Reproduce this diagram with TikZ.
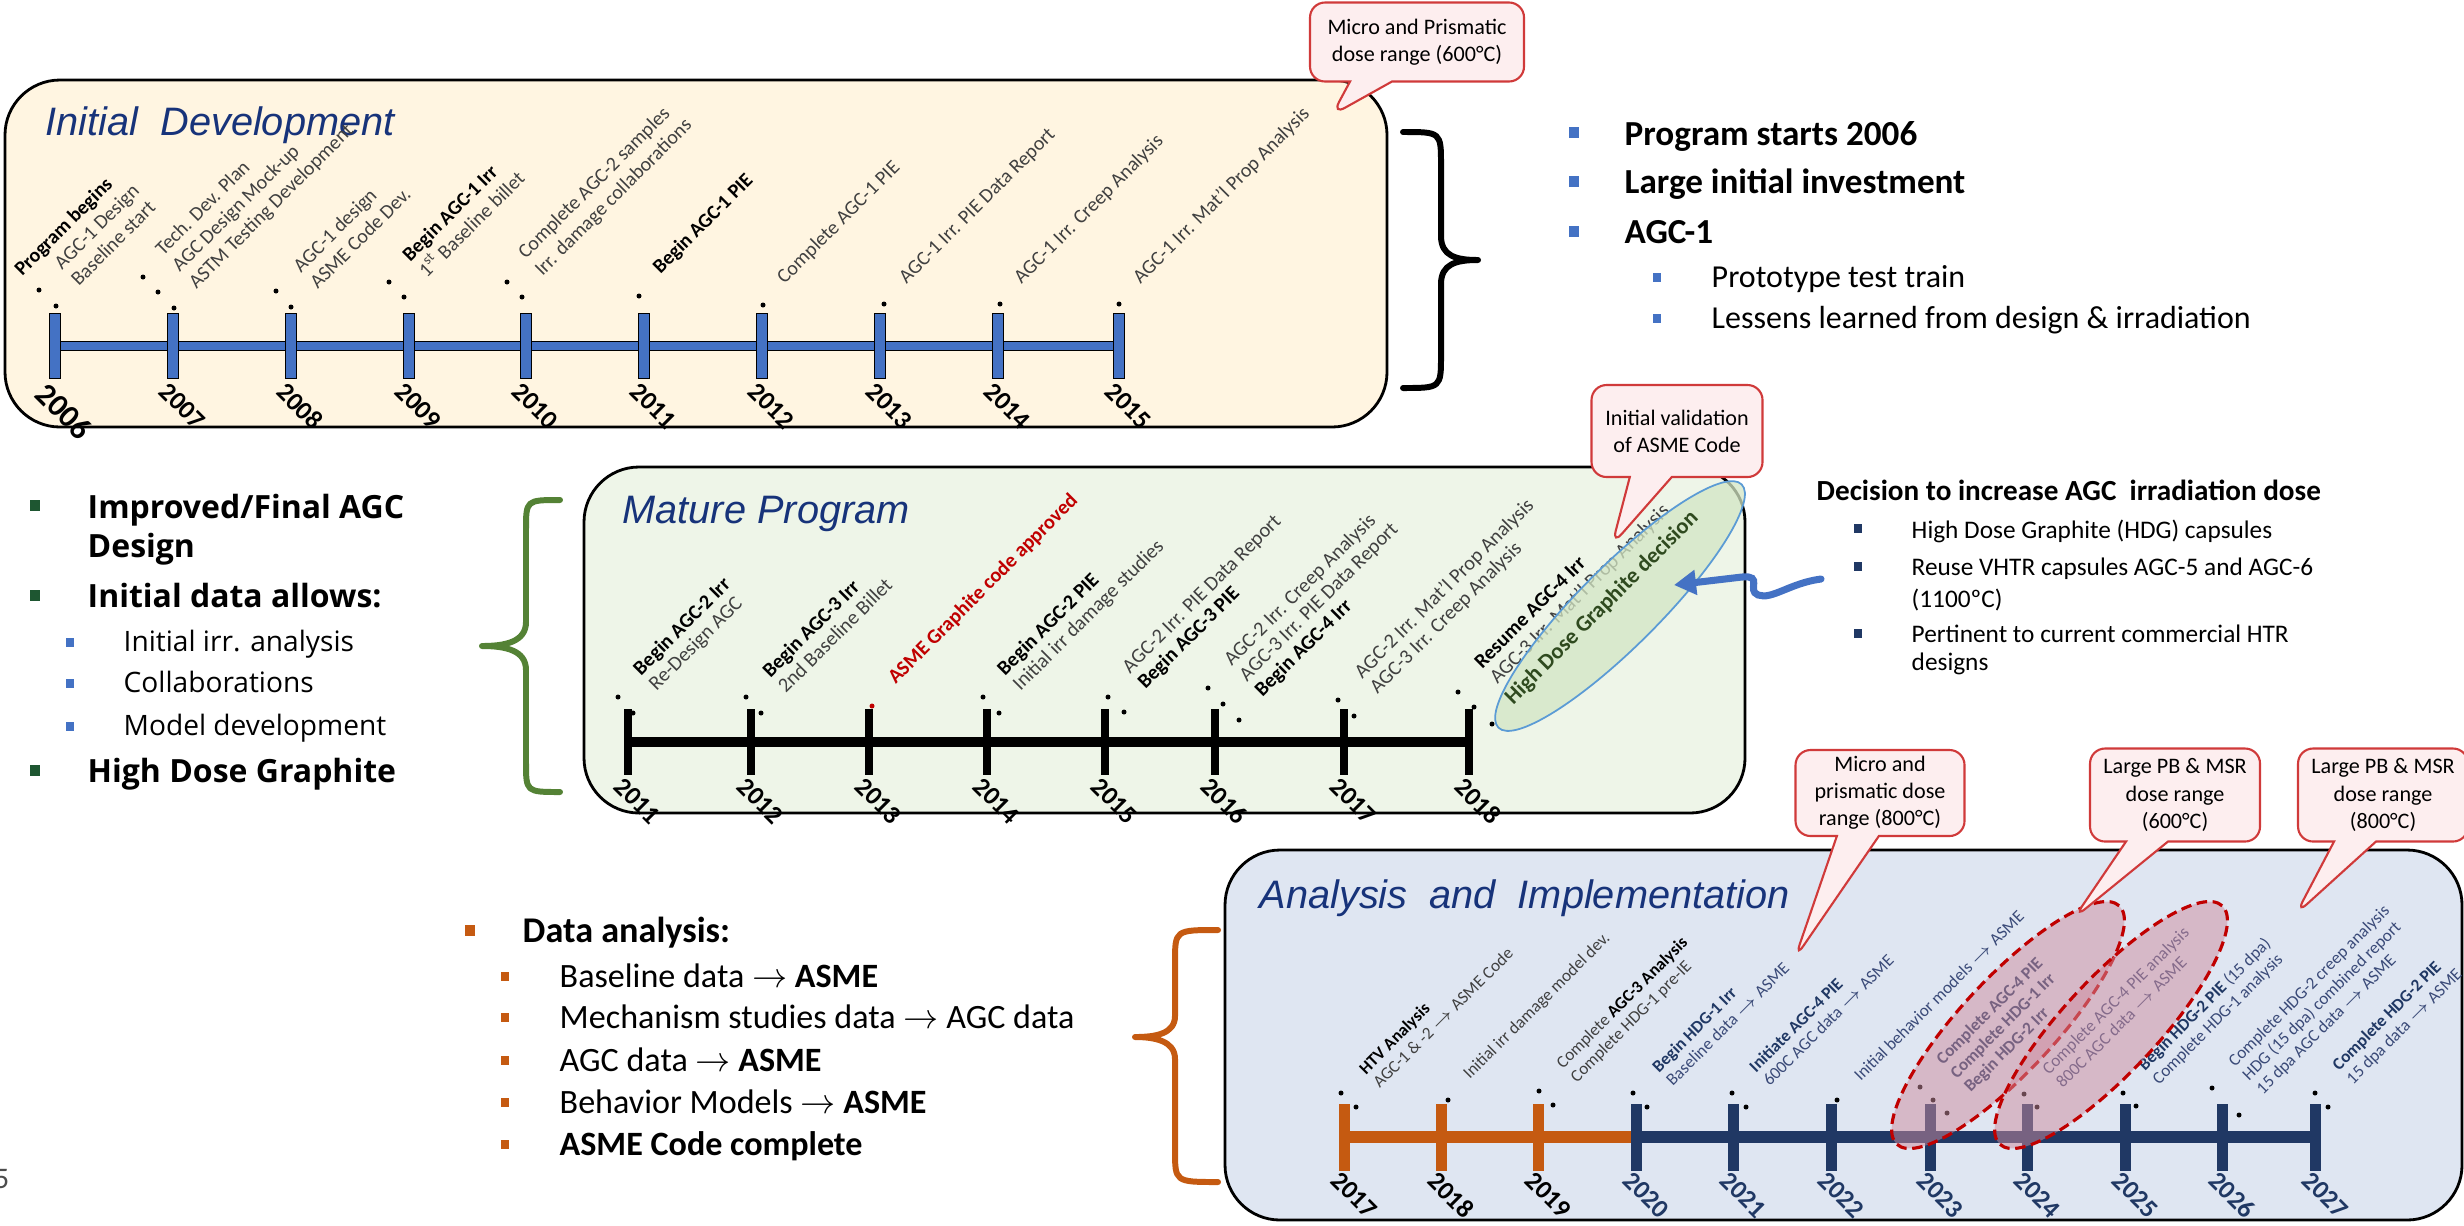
\documentclass[tikz,border=0pt]{standalone}
\usepackage{fontspec}
\setmainfont{Carlito}
\newfontfamily\titlefont{Liberation Sans}
\newfontfamily\segoefont{Open Sans}
\usetikzlibrary{shapes.geometric, shapes.callouts, arrows.meta, positioning}

\definecolor{creamfill}{HTML}{FFF5E1}
\definecolor{greenfill}{HTML}{EEF5E8}
\definecolor{bluefill}{HTML}{DFE6F2}
\definecolor{titleblue}{HTML}{17337A}
\definecolor{tlblue}{HTML}{4472C4}
\definecolor{navy}{HTML}{203864}
\definecolor{navytext}{HTML}{3A4A78}
\definecolor{agcorange}{HTML}{C55A11}
\definecolor{bracegreen}{HTML}{548235}
\definecolor{bulgreen}{HTML}{1E5631}
\definecolor{callfill}{HTML}{FDEEEF}
\definecolor{callred}{HTML}{D03A3A}
\definecolor{codered}{HTML}{C00000}
\definecolor{hdgfill}{HTML}{D3E6C4}
\definecolor{hdgline}{HTML}{5B9BD5}
\definecolor{hdgtext}{HTML}{2F4A1F}
\definecolor{pinkfill}{HTML}{CF8C9E}

\newcommand{\setfs}[2]{\fontsize{#1}{#2}\selectfont}
\newcommand{\toarr}{\ensuremath{\rightarrow}}
\newcommand{\boldtag}[1]{\textbf{\textcolor{black}{#1}}}

\begin{document}
\begin{tikzpicture}[x=0.1mm, y=-0.1mm,
 panel/.style={draw=black, line width=0.8pt, rounded corners=5.5mm},
 ptitle/.style={anchor=base west, inner sep=0, text=titleblue, font=\titlefont\itshape\setfs{11.3}{13}},
 tickA/.style={draw=black, line width=0.4pt, fill=tlblue, minimum width=1.1mm, minimum height=6.5mm, inner sep=0},
 tickB/.style={fill=black, minimum width=0.8mm, minimum height=6.6mm, inner sep=0},
 tickC/.style={fill=#1, minimum width=1.1mm, minimum height=6.7mm, inner sep=0},
 yearlbl/.style={rotate=-45, anchor=north west, inner sep=0, font=\bfseries\setfs{7.4}{8}},
 ann/.style={rotate=45, anchor=south west, inner sep=0, align=left, text=black!75, font=\setfs{5.7}{6.7}},
 annB/.style={ann, font=\setfs{5.8}{6.2}},
 annC/.style={ann, font=\setfs{4.9}{5.6}},
 speck/.style={fill=black},
 bubble/.style={rectangle callout, draw=callred, fill=callfill, line width=0.6pt, rounded corners=1.5mm, align=center, inner sep=0, font=\setfs{6.3}{7.7}, callout pointer width=4.2mm},
 hdgell/.style={ellipse, rotate=45, minimum width=34.4mm, minimum height=8mm, draw=hdgline, line width=0.5pt, fill=hdgfill, fill opacity=0.75, inner sep=0},
 pbell/.style={ellipse, rotate=47, minimum width=32.6mm, minimum height=9.4mm, draw=codered, line width=0.9pt, dash pattern=on 3pt off 1.6pt, fill=pinkfill, fill opacity=0.5, inner sep=0},
 bracepath/.style={line width=1.7pt, line cap=round, line join=round},
 bsq/.style={fill=#1, minimum width=1mm, minimum height=1.1mm, inner sep=0},
 ssq/.style={fill=#1, minimum width=0.8mm, minimum height=0.9mm, inner sep=0},
 line/.style={anchor=base west, inner sep=0}
 ]
 \useasboundingbox (0,0) rectangle (2464,1225);

 %Panels
 \draw[panel, fill=creamfill] (5,80) rectangle (1387,427);
 \draw[panel, fill=greenfill] (584,467) rectangle (1745,813);
 \draw[panel, fill=bluefill] (1225,850) rectangle (2462,1220);

 \node[ptitle] (title1) at (45,135) {Initial\ \ Development};
 \node[ptitle] (title2) at (622,523) {Mature Program};
 \node[ptitle] (title3) at (1259,908) {Analysis\ \ and\ \ Implementation};

 %Braces
 \draw[bracepath] (1403,132) .. controls (1441,132) .. (1441,165) -- (1441,236) .. controls (1441,256) and (1456,260) .. (1478,260) .. controls (1456,260) and (1441,264) .. (1441,284) -- (1441,355) .. controls (1441,388) .. (1403,388);
 \draw[bracepath, bracegreen] (560,500) .. controls (526,500) .. (526,530) -- (526,622) .. controls (526,642) and (505,646) .. (482,646) .. controls (505,646) and (526,650) .. (526,670) -- (526,762) .. controls (526,792) .. (560,792);
 \draw[bracepath, agcorange] (1218,930) .. controls (1175,930) .. (1175,962) -- (1175,1016) .. controls (1175,1034) and (1155,1037) .. (1135,1037) .. controls (1155,1037) and (1175,1041) .. (1175,1059) -- (1175,1150) .. controls (1175,1182) .. (1218,1182);

 %Timeline 2006-2015
 \coordinate (bar1s) at (55,346);
 \coordinate (bar1e) at (1119,346);
 \draw[line width=3.1pt] (bar1s) -- (bar1e);
 \draw[tlblue, line width=2pt] (bar1s) -- (bar1e);
 \node[tickA] (ta2006) at (55,346) {};
 \node[yearlbl, font=\bfseries\setfs{9}{10}] (ya2006) at (49,380) {2006};
 \foreach \yr/\x in {2007/173, 2008/291, 2009/409, 2010/526, 2011/644, 2012/762, 2013/880, 2014/998, 2015/1119} {
   \node[tickA] (ta\yr) at (\x,346) {};
   \node[yearlbl] (ya\yr) at (\x-3,380) {\yr};
 }

 %Timeline 2011-2018
 \coordinate (bar2s) at (628,742);
 \coordinate (bar2e) at (1469,742);
 \draw[line width=2.9pt] (bar2s) -- (bar2e);
 \foreach \yr/\x in {2011/628, 2012/751, 2013/869, 2014/987, 2015/1105, 2016/1215, 2017/1344, 2018/1469} {
   \node[tickB] (tb\yr) at (\x,742) {};
   \node[yearlbl] (yb\yr) at (\x-3,775) {\yr};
 }

 %Timeline 2017-2027
 \coordinate (bar3s) at (1344,1137);
 \coordinate (bar3m) at (1636,1137);
 \coordinate (bar3e) at (2315,1137);
 \draw[agcorange, line width=3.4pt] (bar3s) -- (bar3m);
 \draw[navy, line width=3.4pt] (bar3m) -- (bar3e);
 \foreach \yr/\x in {2017/1344, 2018/1441, 2019/1538} {
   \node[tickC=agcorange] (tc\yr) at (\x,1137) {};
   \node[yearlbl] (yc\yr) at (\x-2,1169) {\yr};
 }
 \foreach \yr/\x in {2020/1636, 2021/1733, 2022/1831, 2023/1930, 2024/2027, 2025/2125, 2026/2222, 2027/2315} {
   \node[tickC=navy] (tc\yr) at (\x,1137) {};
   \node[yearlbl, text=navy] (yc\yr) at (\x-2,1169) {\yr};
 }

 %Dots
 \foreach \p in {(39,290),(56,306),(143,277),(158,292),(174,308),(276,291),(291,307),(389,282),(404,297),(507,282),(522,297),(639,296),(763,305),(884,304),(1000,304),(1119,304),
   (618,697),(633,713),(746,697),(761,713),(983,697),(999,713),(1108,697),(1124,712),(1208,688),(1223,704),(1239,720),(1338,700),(1354,716),(1458,692),(1474,707),(1492,724),
   (1341,1093),(1356,1107),(1448,1100),(1539,1091),(1553,1105),(1633,1093),(1647,1107),(1732,1093),(1746,1107),(1837,1100),(1920,1087),(1933,1100),(1947,1113),(2024,1094),(2037,1107),(2123,1093),(2136,1106),(2212,1088),(2239,1115),(2315,1093),(2328,1107)}
   \fill[speck] \p circle[radius=0.25mm];
 \fill[codered] (872,706) circle[radius=0.25mm];

 %Milestones 2006-2015
 \node[ann] (m2006) at (79,288) {\hspace*{-3.3mm}\boldtag{Program begins}\\AGC-1 Design\\Baseline start};
 \node[ann] (m2007) at (199,293) {Tech. Dev. Plan\\AGC Design Mock-up\\ASTM Testing Development};
 \node[ann] (m2008) at (318,291) {AGC-1 design\\ASME Code Dev.};
 \node[ann] (m2009) at (427,280) {\boldtag{Begin AGC-1 Irr}\\1\textsuperscript{st} Baseline billet};
 \node[ann] (m2010) at (545,280) {Complete AGC-2 samples\\Irr. damage collaborations};
 \node[ann] (m2011) at (663,278) {\boldtag{Begin AGC-1 PIE}};
 \node[ann] (m2012) at (787,288) {Complete AGC-1 PIE};
 \node[ann] (m2013) at (909,288) {AGC-1 Irr. PIE Data Report};
 \node[ann] (m2014) at (1024,288) {AGC-1 Irr. Creep Analysis};
 \node[ann] (m2015) at (1143,288) {AGC-1 Irr. Mat’l Prop Analysis};

 %Milestones 2011-2018
 \node[annB] (n2011) at (659,695) {\boldtag{Begin AGC-2 Irr}\\Re-Design AGC};
 \node[annB] (n2012) at (786,695) {\boldtag{Begin AGC-3 Irr}\\2nd Baseline Billet};
 \node[annB, text=codered] (n2013) at (898,688) {\textbf{ASME Graphite code approved}};
 \node[annB] (n2014) at (1023,695) {\boldtag{Begin AGC-2 PIE}\\Initial irr damage studies};
 \node[annB] (n2015) at (1148,693) {AGC-2 Irr. PIE Data Report\\\boldtag{Begin AGC-3 PIE}};
 \node[annB] (n2016) at (1265,701) {AGC-2 Irr. Creep Analysis\\AGC-3 Irr. PIE Data Report\\\boldtag{Begin AGC-4 Irr}};
 \node[annB] (n2017) at (1380,698) {AGC-2 Irr. Mat’l Prop Analysis\\AGC-3 Irr. Creep Analysis};
 \node[annB] (n2018) at (1500,688) {\boldtag{Resume AGC-4 Irr}\\AGC-3 Irr. Mat’l Prop Analysis};

 %Milestones 2017-2027
 \node[annC] (p2017) at (1380,1090) {\boldtag{HTV Analysis}\\AGC-1 \& -2 \toarr{} ASME Code};
 \node[annC] (p2018) at (1472,1083) {Initial irr damage model dev.};
 \node[annC] (p2019) at (1579,1086) {Complete \boldtag{AGC-3 Analysis}\\Complete HDG-1 pre-IE};
 \node[annC, text=navytext] (p2020) at (1673,1088) {\textbf{\textcolor{navy}{Begin HDG-1 Irr}}\\Baseline data \toarr{} ASME};
 \node[annC, text=navytext] (p2021) at (1770,1088) {\textbf{\textcolor{navy}{Initiate AGC-4 PIE}}\\600C AGC data \toarr{} ASME};
 \node[annC, text=navytext] (p2022) at (1861,1083) {Initial behavior models \toarr{} ASME};
 \node[annC, text=navy] (p2023) at (1973,1096) {\textbf{Complete AGC-4 PIE}\\\textbf{Complete HDG-1 Irr}\\\textbf{Begin HDG-2 Irr}};
 \node[annC, text=navytext] (p2024) at (2063,1090) {Complete AGC-4 PIE analysis\\800C AGC data \toarr{} ASME};
 \node[annC, text=navytext] (p2025) at (2161,1088) {\textbf{\textcolor{navy}{Begin HDG-2 PIE}} (15 dpa)\\Complete HDG-1 analysis};
 \node[annC, text=navytext] (p2026) at (2265,1098) {Complete HDG-2 creep analysis\\HDG (15 dpa) combined report\\15 dpa AGC data \toarr{} ASME};
 \node[annC, text=navytext] (p2027) at (2355,1088) {\textbf{\textcolor{navy}{Complete HDG-2 PIE}}\\15 dpa data \toarr{} ASME};

 %Highlights
 \node[hdgell] (hdg) at (1620,606) {};
 \node[rotate=45, inner sep=0, text=hdgtext, font=\bfseries\setfs{6.4}{7}] (hdgtxt) at (1602,608) {High Dose Graphite decision};
 \node[pbell] (pb600) at (2008,1025) {};
 \node[pbell] (pb800) at (2111,1025) {};

 %Callouts
 \node[bubble, minimum width=21.4mm, minimum height=7.9mm, callout absolute pointer={(1332,115)}] (c600) at (1417,42) {Micro and Prismatic\\dose range (600°C)};
 \node[bubble, minimum width=17.1mm, minimum height=9.2mm, callout absolute pointer={(1612,545)}] (casme) at (1677,431) {Initial validation\\of ASME Code};
 \node[bubble, minimum width=16.9mm, minimum height=8.6mm, callout absolute pointer={(1795,958)}] (c800) at (1880,793) {Micro and\\prismatic dose\\range (800°C)};
 \node[bubble, minimum width=17mm, minimum height=9.3mm, callout absolute pointer={(2074,918)}] (cpb600) at (2175,795) {Large PB \& MSR\\dose range\\(600°C)};
 \node[bubble, minimum width=17mm, minimum height=9.3mm, callout absolute pointer={(2296,914)}] (cpb800) at (2383,795) {Large PB \& MSR\\dose range\\(800°C)};

 %Squiggle arrow
 \coordinate (sqtail) at (1821,579);
 \coordinate (sqtip) at (1674,585);
 \draw[tlblue, line width=2pt, line cap=round, -{Triangle[length=2.2mm,width=2.4mm]}] (sqtail) .. controls (1790,583) and (1772,600) .. (1758,595) .. controls (1746,590) and (1764,575) .. (1742,577) -- (sqtip);

 %Text right of panel 1
 \node[bsq=tlblue] (r1) at (1574,132) {};
 \node[bsq=tlblue] (r2) at (1574,181) {};
 \node[bsq=tlblue] (r3) at (1574,231) {};
 \node[ssq=tlblue] (r4) at (1657,277) {};
 \node[ssq=tlblue] (r5) at (1657,318) {};
 \node[line, font=\bfseries\setfs{10}{12}] (rt1) at (1624,145) {Program starts 2006};
 \node[line, font=\bfseries\setfs{10}{12}] (rt2) at (1624,193) {Large initial investment};
 \node[line, font=\bfseries\setfs{10}{12}] (rt3) at (1624,243) {AGC-1};
 \node[line, font=\setfs{9.1}{11}] (rt4) at (1711,287) {Prototype test train};
 \node[line, font=\setfs{9.1}{11}] (rt5) at (1711,328) {Lessens learned from design \& irradiation};

 %Text left of panel 2
 \node[bsq=bulgreen] (g1) at (35,505) {};
 \node[bsq=bulgreen] (g2) at (35,595) {};
 \node[ssq=tlblue] (g3) at (70,642) {};
 \node[ssq=tlblue] (g4) at (70,683) {};
 \node[ssq=tlblue] (g5) at (70,726) {};
 \node[bsq=bulgreen] (g6) at (35,770) {};
 \node[line, font=\segoefont\bfseries\setfs{9.1}{11}] (gt1) at (87,518) {Improved/Final AGC};
 \node[line, font=\segoefont\bfseries\setfs{9.1}{11}] (gt1b) at (87,557) {Design};
 \node[line, font=\segoefont\bfseries\setfs{9.1}{11}] (gt2) at (87,607) {Initial data allows:};
 \node[line, font=\segoefont\setfs{8}{10}] (gt3) at (123,651) {Initial irr. analysis};
 \node[line, font=\segoefont\setfs{8}{10}] (gt4) at (123,692) {Collaborations};
 \node[line, font=\segoefont\setfs{8}{10}] (gt5) at (123,735) {Model development};
 \node[line, font=\segoefont\bfseries\setfs{9.1}{11}] (gt6) at (87,782) {High Dose Graphite};

 %Text right of panel 2
 \node[line, font=\bfseries\setfs{8.3}{10}] (dt0) at (1816,500) {Decision to increase AGC\ \ irradiation dose};
 \node[ssq=navy] (d1) at (1858,528) {};
 \node[ssq=navy] (d2) at (1858,566) {};
 \node[ssq=navy] (d3) at (1858,633) {};
 \node[line, font=\setfs{7.2}{9}] (dt1) at (1911,538) {High Dose Graphite (HDG) capsules};
 \node[line, font=\setfs{7.2}{9}] (dt2) at (1911,575) {Reuse VHTR capsules AGC-5 and AGC-6};
 \node[line, font=\setfs{7.2}{9}] (dt2b) at (1911,607) {(1100ºC)};
 \node[line, font=\setfs{7.2}{9}] (dt3) at (1911,642) {Pertinent to current commercial HTR};
 \node[line, font=\setfs{7.2}{9}] (dt3b) at (1911,670) {designs};

 %Text left of panel 3
 \node[bsq=agcorange] (o0) at (470,930) {};
 \node[line, font=\bfseries\setfs{10.3}{12}] (ot0) at (522,942) {Data analysis:};
 \foreach \i/\yy in {1/976, 2/1017, 3/1060, 4/1102, 5/1144}
   \node[ssq=agcorange] (o\i) at (505,\yy) {};
 \node[line, font=\setfs{9.7}{11}] (ot1) at (559,987) {Baseline data \toarr{} \textbf{ASME}};
 \node[line, font=\setfs{9.7}{11}] (ot2) at (559,1028) {Mechanism studies data \toarr{} AGC data};
 \node[line, font=\setfs{9.7}{11}] (ot3) at (559,1071) {AGC data \toarr{} \textbf{ASME}};
 \node[line, font=\setfs{9.7}{11}] (ot4) at (559,1113) {Behavior Models \toarr{} \textbf{ASME}};
 \node[line, font=\bfseries\setfs{9.7}{11}] (ot5) at (559,1155) {ASME Code complete};

 %Page number
 \node[anchor=base east, inner sep=0, text=black!70, font=\setfs{8.5}{10}] (pg) at (10,1188) {5};
\end{tikzpicture}
\end{document}
